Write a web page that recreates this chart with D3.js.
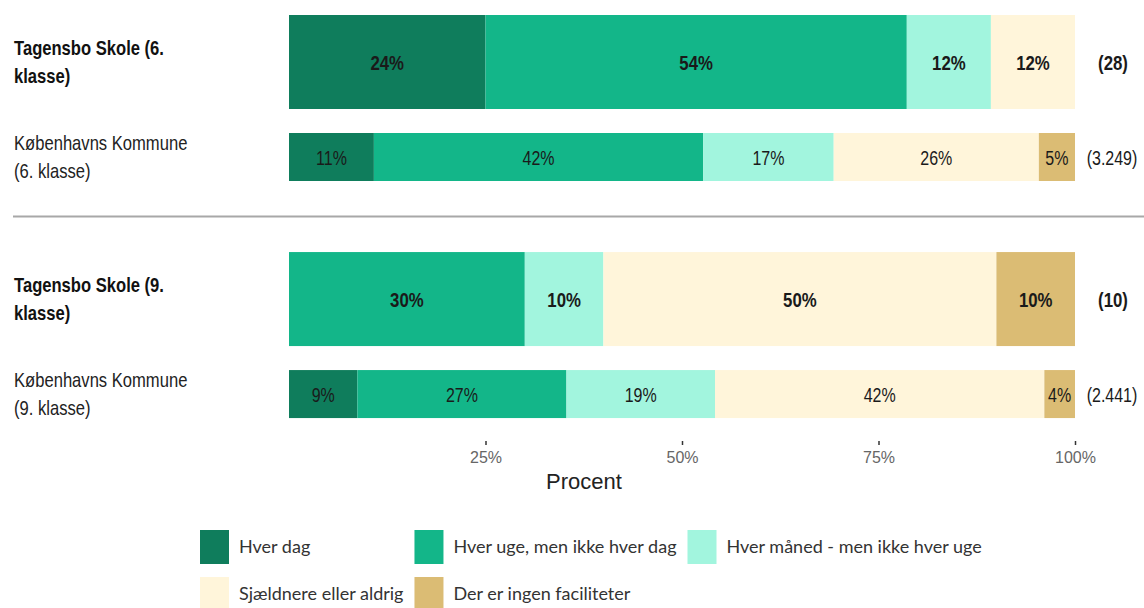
<!DOCTYPE html>
<html>
<head>
<meta charset="utf-8">
<script src="https://cdn.jsdelivr.net/npm/d3@7"></script>
<style>
  body { margin: 0; background: #fff; }
</style>
</head>
<body>
<div id="chart"></div>
<script>
// Rows, top to bottom
const rowKeys = ["t6", "k6", "t9", "k9"];
const rowGroups = ["6. klasse", "6. klasse", "9. klasse", "9. klasse"];
const rowLabels = [
  ["Tagensbo Skole (6.", "klasse)"],
  ["Københavns Kommune", "(6. klasse)"],
  ["Tagensbo Skole (9.", "klasse)"],
  ["Københavns Kommune", "(9. klasse)"]
];
const rowIsSchool = [true, false, true, false];
const rowCounts = ["(28)", "(3.249)", "(10)", "(2.441)"];

const categories = [
  "Hver dag",
  "Hver uge, men ikke hver dag",
  "Hver måned - men ikke hver uge",
  "Sjældnere eller aldrig",
  "Der er ingen faciliteter"
];
const colors = ["#0f7d5c", "#13b689", "#a2f5de", "#fff5da", "#dbbc74"];

// shares per category (one value per row)
const hverDag    = [0.250, 0.108, 0.000, 0.087];
const hverUge    = [0.536, 0.419, 0.300, 0.266];
const hverMaaned = [0.107, 0.166, 0.100, 0.189];
const sjaeldnere = [0.107, 0.261, 0.500, 0.419];
const ingenFac   = [0.000, 0.046, 0.100, 0.039];

// printed labels
const lblHverDag    = ["24%", "11%", "", "9%"];
const lblHverUge    = ["54%", "42%", "30%", "27%"];
const lblHverMaaned = ["12%", "17%", "10%", "19%"];
const lblSjaeldnere = ["12%", "26%", "50%", "42%"];
const lblIngenFac   = ["", "5%", "10%", "4%"];

const xTicks = [0.25, 0.5, 0.75, 1];
const xTitle = "Procent";

const seriesValues = [hverDag, hverUge, hverMaaned, sjaeldnere, ingenFac];
const seriesLabels = [lblHverDag, lblHverUge, lblHverMaaned, lblSjaeldnere, lblIngenFac];

const table = rowKeys.map((k, i) => {
  const o = { key: k, group: rowGroups[i], school: rowIsSchool[i] };
  categories.forEach((c, j) => { o[c] = seriesValues[j][i]; });
  return o;
});

const width = 1144, height = 608;
const marginLeft = 289, plotRight = 1075;
const plotTop = 15, plotBottom = 418;
const schoolH = 94, kommuneH = 48, kommuneOffset = 118;

const svg = d3.create("svg")
  .attr("width", width)
  .attr("height", height)
  .attr("viewBox", [0, 0, width, height]);
d3.select("#chart").append(() => svg.node());

const x = d3.scaleLinear().domain([0, 1]).range([marginLeft, plotRight]);

const yGroup = d3.scaleBand()
  .domain(["6. klasse", "9. klasse"])
  .range([plotTop, plotBottom])
  .paddingInner(0.3);

const rowTop = d => yGroup(d.group) + (d.school ? 0 : kommuneOffset);
const rowH = d => d.school ? schoolH : kommuneH;
const rowMid = d => rowTop(d) + rowH(d) / 2;

const stacked = d3.stack().keys(categories)(table);

const sans = "'Liberation Sans', Arial, sans-serif";

// squeeze text horizontally (no narrow font installed)
function condense(sel, k) {
  sel.each(function() {
    const len = this.getComputedTextLength();
    d3.select(this).attr("textLength", len * k).attr("lengthAdjust", "spacingAndGlyphs");
  });
}

// bars
svg.append("g")
  .selectAll("g")
  .data(stacked)
  .join("g")
  .attr("fill", (s, i) => colors[i])
  .selectAll("rect")
  .data(s => s)
  .join("rect")
  .attr("x", d => x(d[0]))
  .attr("width", d => x(d[1]) - x(d[0]))
  .attr("y", d => rowTop(d.data))
  .attr("height", d => rowH(d.data));

// labels in segments
svg.append("g")
  .selectAll("g")
  .data(stacked)
  .join("g")
  .each(function(s, si) {
    d3.select(this).selectAll("text")
      .data(s.map((d, ri) => ({ d, ri })).filter(o => seriesLabels[si][o.ri] !== ""))
      .join("text")
      .attr("x", o => x((o.d[0] + o.d[1]) / 2))
      .attr("y", o => rowMid(o.d.data))
      .attr("dy", "0.38em")
      .attr("text-anchor", "middle")
      .attr("font-family", sans)
      .attr("font-size", o => o.d.data.school ? 21 : 20)
      .attr("font-weight", o => o.d.data.school ? "bold" : "normal")
      .attr("fill", "#1a1a1a")
      .text(o => seriesLabels[si][o.ri])
      .call(condense, 0.8);
  });

// row labels on the left
svg.append("g")
  .selectAll("text")
  .data(table)
  .join("text")
  .attr("font-family", sans)
  .attr("font-size", 21)
  .attr("font-weight", d => d.school ? "bold" : "normal")
  .attr("fill", d => d.school ? "#111" : "#222")
  .attr("y", d => rowMid(d) - 7)
  .each(function(d, i) {
    d3.select(this).selectAll("tspan")
      .data(rowLabels[i])
      .join("tspan")
      .attr("x", 14)
      .attr("dy", (t, j) => j === 0 ? 0 : 28)
      .text(t => t)
      .call(condense, 0.79);
  });

// counts on the right (squeezed with a transform)
svg.append("g")
  .selectAll("text")
  .data(table)
  .join("text")
  .attr("transform", d => `translate(${x(1) + (d.school ? 38 : 37)},${rowMid(d)}) scale(0.8,1)`)
  .attr("dy", "0.38em")
  .attr("text-anchor", "middle")
  .attr("font-family", sans)
  .attr("font-size", d => d.school ? 21 : 20)
  .attr("font-weight", d => d.school ? "bold" : "normal")
  .attr("fill", "#1a1a1a")
  .text((d, i) => rowCounts[i]);

// separator between the two grades
const sepY = (yGroup("6. klasse") + yGroup.bandwidth() + yGroup("9. klasse")) / 2;
svg.append("line")
  .attr("x1", 13).attr("x2", width)
  .attr("y1", sepY).attr("y2", sepY)
  .attr("stroke", "#a8a8a8")
  .attr("stroke-width", 2);

// x axis
svg.append("g")
  .attr("transform", `translate(0,${plotBottom + 23})`)
  .call(d3.axisBottom(x).tickValues(xTicks).tickFormat(d3.format(".0%")).tickSize(4).tickPadding(7))
  .call(g => g.select(".domain").remove())
  .call(g => g.selectAll(".tick line").attr("stroke", "#333").attr("stroke-width", 1.5))
  .call(g => g.selectAll(".tick text")
    .attr("font-family", sans)
    .attr("font-size", 16)
    .attr("fill", "#666"));

svg.append("text")
  .attr("x", 584)
  .attr("y", 489)
  .attr("text-anchor", "middle")
  .attr("font-family", sans)
  .attr("font-size", 22)
  .attr("fill", "#222")
  .text(xTitle);

// legend (3 columns, filled row by row; column width from widest label)
const legendFont = "Lato, 'Open Sans', sans-serif";
const legend = svg.append("g").attr("font-family", legendFont).attr("font-size", 18);
const nCols = 3, sw = 29, sh = 34, gap = 10, colGap = 11, rowStep = 47;
const items = legend.selectAll("g")
  .data(categories)
  .join("g");
items.append("rect")
  .attr("width", sw).attr("height", sh)
  .attr("fill", (d, i) => colors[i]);
items.append("text")
  .attr("x", sw + gap)
  .attr("y", sh / 2)
  .attr("dy", "0.35em")
  .attr("fill", "#333")
  .text(d => d);
const colW = d3.range(nCols).map(c =>
  d3.max(items.filter((d, i) => i % nCols === c).select("text").nodes(), n => n.getComputedTextLength()));
const colX = [200];
for (let c = 1; c < nCols; c++) colX.push(colX[c - 1] + sw + gap + colW[c - 1] + colGap);
items.attr("transform", (d, i) => `translate(${colX[i % nCols]},${530 + Math.floor(i / nCols) * rowStep})`);
</script>
</body>
</html>
